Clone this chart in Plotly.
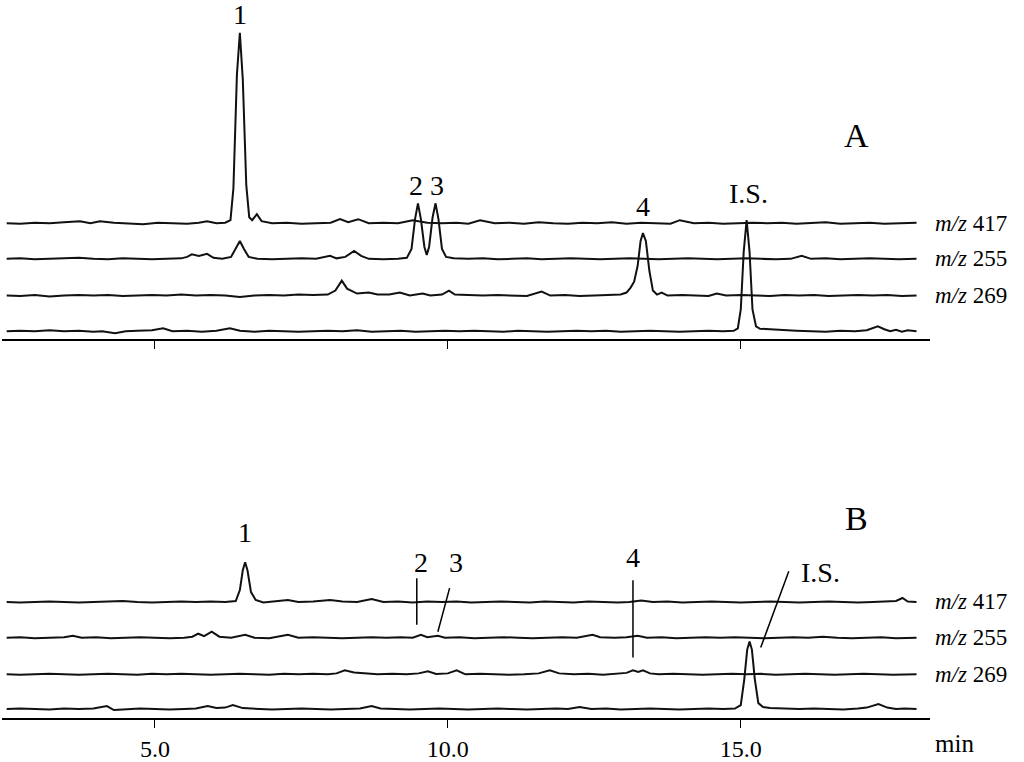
import plotly.graph_objects as go

# ---------------- data (time in min, intensity relative to each trace's own baseline) -------------
A_417 = [(2.47,0),(2.7,-0.5),(2.95,0.5),(3.2,0),(3.45,1),(3.72,2),(3.9,0),(4.06,2),(4.3,0.5),(4.55,0),
         (4.8,-1),(5.05,0.5),(5.3,0),(5.55,-0.5),(5.75,0.5),(5.89,2),(6.05,0),(6.2,0.5),(6.29,3),(6.34,35),
         (6.40,150),(6.45,192),(6.50,145),(6.56,38),(6.61,6),(6.66,3),(6.74,9),(6.82,2),(7.0,0),(7.25,0.5),
         (7.5,-0.5),(7.75,0),(8.0,0.5),(8.16,4),(8.3,1),(8.47,4),(8.65,0),(8.9,0.5),(9.15,0),(9.4,3),
         (9.65,0.5),(9.9,0),(10.15,0.5),(10.35,-0.5),(10.55,3),(10.8,0),(11.05,0.5),(11.3,-0.5),(11.55,1),
         (11.8,0),(12.05,-0.5),(12.3,0.5),(12.55,0),(12.8,1),(13.05,-0.5),(13.3,0.5),(13.55,0),(13.8,-0.5),
         (13.96,3),(14.2,0),(14.45,0.5),(14.7,-0.5),(14.95,0),(15.2,0.5),(15.45,0),(15.7,0.5),(15.95,-0.5),
         (16.2,0),(16.45,1),(16.7,-0.5),(16.95,0),(17.2,0.5),(17.45,-0.5),(17.7,0),(18.0,0.5)]

A_255 = [(2.47,0),(2.7,0.5),(2.95,-0.5),(3.2,0),(3.45,0.5),(3.7,1),(3.95,0),(4.2,-0.5),(4.45,0.5),(4.7,0),
         (4.95,-0.5),(5.2,0),(5.45,0.5),(5.55,2),(5.63,4.5),(5.75,3),(5.89,5),(6.0,1),(6.15,0),(6.3,2),
         (6.38,10),(6.45,18),(6.52,10),(6.6,2),(6.75,0),(7.0,-0.5),(7.25,0),(7.5,0.5),(7.75,0),(7.99,3),
         (8.1,0.5),(8.25,2),(8.40,8),(8.52,3),(8.65,0),(8.9,-0.5),(9.15,0),(9.3,1),(9.38,10),(9.44,40),
         (9.49,56),(9.54,40),(9.6,12),(9.64,4),(9.68,12),(9.74,42),(9.79,56),(9.84,40),(9.9,10),(9.97,2),
         (10.1,0.5),(10.35,0),(10.6,0.5),(10.85,-0.5),(11.1,0),(11.35,0.5),(11.6,-0.5),(11.85,0),(12.1,0.5),
         (12.35,0),(12.6,-0.5),(12.85,0),(13.1,0.5),(13.35,0),(13.6,-0.5),(13.85,0),(14.1,0.5),(14.35,0),
         (14.6,-0.5),(14.85,0),(15.1,0.5),(15.35,0),(15.6,-0.5),(15.85,0),(16.04,3),(16.2,0),(16.45,0.5),
         (16.7,-0.5),(16.95,0),(17.2,0.5),(17.45,0),(17.7,-0.5),(18.0,0)]

A_269 = [(2.47,0),(2.7,-0.5),(2.95,0.5),(3.2,-1),(3.45,0),(3.7,0.5),(3.95,0),(4.2,0.5),(4.45,-0.5),(4.7,0),
         (4.95,0.5),(5.2,0),(5.45,1),(5.7,0),(5.95,0.5),(6.2,0),(6.45,-1.5),(6.7,0),(6.95,0.5),(7.2,0),
         (7.45,1),(7.7,0.5),(7.95,1),(8.08,5),(8.19,15),(8.28,7),(8.35,5),(8.45,2),(8.65,3),(8.8,1),(9.0,1),
         (9.18,3),(9.35,0),(9.57,2),(9.7,0),(9.9,1),(10.02,5),(10.12,1),(10.35,0.5),(10.6,0),(10.85,0.5),
         (11.1,0),(11.35,-0.5),(11.6,4),(11.75,0),(12.0,0.5),(12.25,-0.5),(12.5,0),(12.75,0.5),(12.95,1),
         (13.05,3),(13.12,8),(13.18,14),(13.24,30),(13.29,55),(13.33,63),(13.38,55),(13.44,25),(13.5,5),
         (13.57,1),(13.65,3),(13.75,0),(14.0,0.5),(14.25,0),(14.45,-0.5),(14.59,2),(14.75,0),(15.0,0.5),
         (15.25,0),(15.5,-0.5),(15.75,0.5),(16.0,0),(16.25,0.5),(16.5,-0.5),(16.75,0),(17.0,0.5),(17.25,0),
         (17.5,0.5),(17.75,-0.5),(18.0,0)]

A_IS = [(2.47,0),(2.7,0.5),(2.95,0),(3.2,1),(3.45,0),(3.7,0.5),(3.95,-0.5),(4.1,0),(4.32,-2),(4.5,0),
        (4.7,0.5),(4.95,1),(5.14,3),(5.3,0),(5.55,0.5),(5.8,-0.5),(6.05,0.5),(6.28,3),(6.45,0.5),(6.7,-0.5),
        (6.95,0.5),(7.2,0),(7.45,-0.5),(7.7,0),(7.95,0.5),(8.2,0),(8.45,1),(8.7,-0.5),(8.95,0),(9.2,0.5),
        (9.45,-0.5),(9.7,0),(9.95,0.5),(10.2,0),(10.45,0.5),(10.7,0),(10.95,-0.5),(11.2,0.5),(11.45,0),
        (11.7,-0.5),(11.95,0),(12.2,0.5),(12.45,0),(12.7,0.5),(12.95,-0.5),(13.2,0),(13.45,0.5),(13.7,0),
        (13.95,-0.5),(14.2,0),(14.45,0.5),(14.7,0),(14.88,0.5),(14.95,3),(15.0,22),(15.05,80),(15.1,112),
        (15.15,80),(15.2,22),(15.26,5),(15.33,2.5),(15.5,2),(15.7,1),(15.95,0.5),(16.2,0),(16.45,-0.5),
        (16.7,0.5),(16.95,0),(17.15,1),(17.34,5),(17.45,2),(17.55,0),(17.65,1.5),(17.75,-0.5),(17.85,1),(18.0,0)]

B_417 = [(2.47,0),(2.7,-0.5),(2.95,0),(3.2,0.5),(3.45,0),(3.7,-0.5),(3.95,0),(4.2,0.5),(4.45,1),(4.7,0),
         (4.95,-0.5),(5.2,0),(5.45,0.5),(5.7,0),(5.95,0.5),(6.2,0),(6.38,1),(6.45,12),(6.5,32),(6.54,40),
         (6.58,32),(6.64,10),(6.72,2),(6.85,-0.5),(7.05,0.5),(7.27,2),(7.45,0),(7.7,0.5),(7.99,2),(8.2,0.5),
         (8.45,0),(8.7,3),(8.9,0),(9.15,0.5),(9.4,-0.5),(9.65,0.5),(9.9,0),(10.15,0.5),(10.4,-0.5),(10.65,0),
         (10.9,0.5),(11.15,0),(11.4,-0.5),(11.65,0.5),(11.9,0),(12.15,-0.5),(12.4,0.5),(12.65,0),(12.9,-0.5),
         (13.1,0),(13.3,1.5),(13.5,0),(13.75,0.5),(14.0,-0.5),(14.25,0),(14.5,0.5),(14.75,0),(15.0,-0.5),
         (15.25,0),(15.5,0.5),(15.75,0),(16.0,-0.5),(16.25,0),(16.5,0.5),(16.75,0),(17.0,-0.5),(17.25,0),
         (17.5,0.5),(17.65,1),(17.76,4),(17.85,0.5),(18.0,0)]

B_255 = [(2.47,0),(2.7,0.5),(2.95,-0.5),(3.2,0),(3.45,0.5),(3.6,2),(3.75,0),(4.0,0.5),(4.25,-0.5),(4.5,0),
         (4.75,0.5),(5.0,0),(5.25,-0.5),(5.5,0),(5.64,1),(5.74,4),(5.84,1.5),(5.97,6),(6.1,1),(6.3,0),
         (6.54,3),(6.7,0),(6.95,-0.5),(7.27,3),(7.45,0),(7.7,0.5),(7.95,0),(8.2,-0.5),(8.45,0),(8.7,0.5),
         (8.95,0),(9.2,0.5),(9.4,0),(9.54,3),(9.65,0.5),(9.83,2),(9.95,0),(10.2,0.5),(10.45,-0.5),(10.7,0),
         (10.95,0.5),(11.2,0),(11.45,-0.5),(11.7,0),(11.95,0.5),(12.2,0),(12.47,3),(12.6,0.5),(12.85,0),
         (13.05,0.5),(13.24,2),(13.4,0),(13.65,0.5),(13.9,-0.5),(14.15,0),(14.4,0.5),(14.65,0),(14.9,0.5),
         (15.15,0),(15.4,-0.5),(15.65,0),(15.9,0.5),(16.15,0),(16.4,1),(16.65,0),(16.9,-0.5),(17.15,0),
         (17.4,0.5),(17.65,-0.5),(18.0,0)]

B_269 = [(2.47,0),(2.7,-0.5),(2.95,0),(3.2,0.5),(3.45,0),(3.7,-0.5),(3.95,0),(4.2,0.5),(4.45,0),(4.7,-0.5),
         (4.95,0.5),(5.2,0),(5.45,0.5),(5.7,0),(5.95,-0.5),(6.2,0),(6.45,0.5),(6.7,0),(6.95,-0.5),(7.2,0.5),
         (7.45,0),(7.7,0.5),(7.95,0),(8.1,1),(8.24,4),(8.4,2),(8.6,1),(8.8,0),(9.05,0.5),(9.3,0),(9.5,1),
         (9.66,3),(9.8,0.5),(10.0,1),(10.15,4),(10.3,0),(10.55,0.5),(10.8,0),(11.05,-0.5),(11.3,0),(11.55,1),
         (11.74,4),(11.9,1),(12.15,0),(12.4,0.5),(12.65,-0.5),(12.9,0.5),(13.05,1.5),(13.16,4),(13.25,2.5),
         (13.33,4),(13.45,1),(13.6,0),(13.85,0.5),(14.1,0),(14.35,-0.5),(14.6,0),(14.85,0.5),(15.1,0),
         (15.35,0.5),(15.6,-0.5),(15.85,0),(16.1,0.5),(16.35,0),(16.6,-0.5),(16.85,0),(17.1,0.5),(17.35,0),
         (17.6,-0.5),(18.0,0)]

B_IS = [(2.47,0),(2.7,0.5),(2.95,0),(3.2,-0.5),(3.45,0.5),(3.7,0),(3.95,0.5),(4.18,3),(4.3,-1),(4.5,0),
        (4.75,0.5),(5.0,0),(5.25,-0.5),(5.5,0),(5.7,0.5),(5.9,3),(6.05,1),(6.2,1.5),(6.33,4),(6.5,1),
        (6.75,0),(7.0,-0.5),(7.25,0),(7.5,0.5),(7.75,0),(8.0,-0.5),(8.25,0),(8.5,0.5),(8.7,3),(8.85,0.5),
        (9.1,0),(9.35,-0.5),(9.6,0),(9.85,0.5),(10.1,0),(10.35,-0.5),(10.6,0),(10.85,0.5),(11.1,0),
        (11.35,-0.5),(11.6,0),(11.85,0.5),(12.05,0),(12.25,2),(12.45,0),(12.7,0.5),(12.95,-0.5),(13.2,0),
        (13.45,0.5),(13.7,0),(13.95,-0.5),(14.2,0),(14.45,0.5),(14.7,0),(14.9,0.5),(15.0,4),(15.06,30),
        (15.11,60),(15.15,68),(15.19,60),(15.24,30),(15.3,6),(15.38,2),(15.5,1),(15.75,0.5),(16.0,0),
        (16.25,0.5),(16.5,0),(16.75,-0.5),(17.0,0.5),(17.15,1.5),(17.35,5),(17.5,1.5),(17.65,0),(17.8,0.5),(18.0,0)]

trace_labels = ["m/z 417", "m/z 255", "m/z 269", ""]
tick_values = [5.0, 10.0, 15.0]
tick_text = ["5.0", "10.0", "15.0"]

# ---------------- layout constants ----------------
offsets = [117, 81, 44, 8]       # vertical stacking of the four ion traces (panel A)
offsets_b = [117, 81, 44, 9]     # panel B
LINE = "#111111"
SERIF = "Liberation Serif, Times New Roman, serif"

fig = go.Figure()

def add(trace, off, xa, ya):
    t = [p[0] for p in trace]
    v = [p[1] + off for p in trace]
    fig.add_trace(go.Scatter(x=t, y=v, mode="lines", xaxis=xa, yaxis=ya,
                             line=dict(color=LINE, width=2),
                             hoverinfo="skip", showlegend=False))

for tr, off in zip([A_417, A_255, A_269, A_IS], offsets):
    add(tr, off, "x", "y")
for tr, off in zip([B_417, B_255, B_269, B_IS], offsets_b):
    add(tr, off, "x2", "y2")

xcommon = dict(range=[2.39, 18.23], showgrid=False, zeroline=False, showline=True,
               linecolor="black", linewidth=1.6, ticks="outside", ticklen=8, tickwidth=1.4,
               tickcolor="black", tickvals=tick_values, ticktext=tick_text, fixedrange=True)
fig.update_layout(
    width=1024, height=762,
    margin=dict(l=2, r=94, t=0, b=38),
    paper_bgcolor="white", plot_bgcolor="white",
    xaxis=dict(xcommon, anchor="y", showticklabels=False),
    yaxis=dict(domain=[0.5276, 1.0], range=[0, 342], visible=False, fixedrange=True),
    xaxis2=dict(xcommon, anchor="y2", showticklabels=True,
                tickfont=dict(family=SERIF, size=24, color="black")),
    yaxis2=dict(domain=[0.0, 0.4475], range=[0, 324], visible=False, fixedrange=True),
)

ann = []
def txt(x, y, s, xref, yref, size=28, xanchor="center"):
    ann.append(dict(x=x, y=y, xref=xref, yref=yref, text=s, showarrow=False,
                    xanchor=xanchor, yanchor="middle",
                    font=dict(family=SERIF, size=size, color="black")))

# Panel A labels
txt(6.45, 327, "1", "x", "y")
txt(9.45, 155, "2", "x", "y")
txt(9.81, 155, "3", "x", "y")
txt(13.33, 134, "4", "x", "y")
txt(15.14, 147, "I.S.", "x", "y")
txt(16.98, 205, "A", "x", "y", size=34)
# Panel B labels
txt(6.54, 187, "1", "x2", "y2")
txt(9.54, 157, "2", "x2", "y2")
txt(10.14, 157, "3", "x2", "y2")
txt(13.16, 162, "4", "x2", "y2")
txt(16.36, 147, "I.S.", "x2", "y2")
txt(16.98, 201, "B", "x2", "y2", size=34)

# ion labels at right of each trace
for lab, off in zip(trace_labels, offsets):
    if lab:
        txt(1.003, off, "<i>m/z</i> " + lab.split()[1], "paper", "y", size=23, xanchor="left")
for lab, off in zip(trace_labels, offsets_b):
    if lab:
        txt(1.003, off, "<i>m/z</i> " + lab.split()[1], "paper", "y2", size=23, xanchor="left")

txt(1.003, -0.036, "min", "paper", "paper", size=25, xanchor="left")
fig.update_layout(annotations=ann)

# leader lines in panel B
shapes = []
for (x0, y0, x1, y1) in [(9.47, 141, 9.47, 94), (10.03, 131, 9.83, 87),
                         (13.16, 139, 13.16, 61), (15.82, 148, 15.34, 71)]:
    shapes.append(dict(type="line", xref="x2", yref="y2", x0=x0, y0=y0, x1=x1, y1=y1,
                       line=dict(color="black", width=1.5)))
fig.update_layout(shapes=shapes)

fig.write_html("out.html", config={"displayModeBar": False},
               post_script="document.body.style.margin='0';document.body.style.padding='0';")
